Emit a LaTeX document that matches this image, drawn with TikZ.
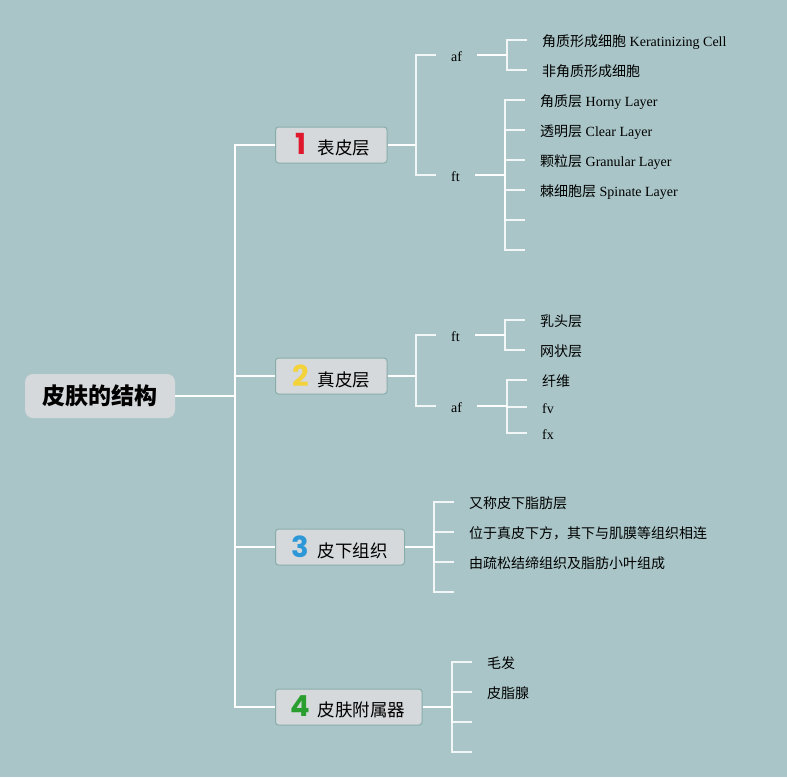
\documentclass[tikz,border=0pt]{standalone}
\usepackage{fontspec}
\setmainfont{Liberation Serif}
\newfontfamily\cjk{Noto Sans CJK SC}
\newfontfamily\badgefont{Poppins}
\definecolor{bgc}{HTML}{A9C5C7}
\definecolor{boxfill}{HTML}{D5D9DC}
\definecolor{boxedge}{HTML}{88AEAB}
\definecolor{bred}{HTML}{E0182D}
\definecolor{byel}{HTML}{F3D23A}
\definecolor{bblue}{HTML}{2D98D8}
\definecolor{bgreen}{HTML}{2A9E2E}
\newcommand\badgenum[2]{\makebox[16pt][c]{\badgefont\bfseries\fontsize{29}{29}\selectfont\color{#2}#1}}
\begin{document}
\begin{tikzpicture}[x=1pt,y=-1pt,
  conn/.style={draw=white, line width=1.7pt},
  tick/.style={draw=white, draw opacity=0.85, line width=1.5pt},
  rootbox/.style={fill=boxfill, rounded corners=8pt, minimum width=150pt, minimum height=44pt,
    inner sep=0pt, font=\cjk\bfseries\fontsize{23}{26}\selectfont},
  lvl/.style={draw=boxedge, fill=boxfill, rounded corners=3pt, line width=1pt,
    minimum height=36pt, inner xsep=17pt, inner ysep=0pt, anchor=west,
    font=\cjk\fontsize{17.5}{20}\selectfont},
  sub/.style={anchor=west, inner xsep=15pt, inner ysep=2pt, text height=14pt, text depth=0.7pt,
    font=\fontsize{14}{16}\selectfont},
  leaf/.style={anchor=west, inner xsep=15pt, inner ysep=2pt, text height=14pt, text depth=0.7pt,
    font=\fontsize{14}{16}\selectfont}]
\fill[bgc] (0,0) rectangle (787,777);
\useasboundingbox (0,0) rectangle (787,777);

% root
\node[rootbox] (root) at (100,396) {皮肤的结构};

% level 1
\node[lvl] (n1) at (275,145) {\badgenum{1}{bred}\hspace{9pt}表皮层};
\node[lvl] (n2) at (275,376) {\badgenum{2}{byel}\hspace{9pt}真皮层};
\node[lvl] (n3) at (275,547) {\badgenum{3}{bblue}\hspace{9pt}皮下组织};
\node[lvl] (n4) at (275,707) {\badgenum{4}{bgreen}\hspace{9pt}皮肤附属器};

\coordinate (t0) at (235,396);
\draw[conn] (root.east) -- (t0);
\draw[conn] (t0) |- (n1.west);
\draw[conn] (t0) |- (n2.west);
\draw[conn] (t0) |- (n3.west);
\draw[conn] (t0) |- (n4.west);

% ---- node 1
\coordinate (j1) at (416,145);
\draw[conn] (n1.east) -- (j1);
\node[sub] (n1a) at (436,55) {af};
\node[sub] (n1b) at (436,175) {ft};
\draw[tick] (j1) |- (n1a.west);
\draw[tick] (j1) |- (n1b.west);

\coordinate (j1a) at (507,55);
\draw[conn] (n1a.east) -- (j1a);
\node[leaf] (l11) at (527,40) {{\cjk 角质形成细胞} Keratinizing Cell};
\node[leaf] (l12) at (527,70) {{\cjk 非角质形成细胞}};
\draw[tick] (j1a) |- (l11.west);
\draw[tick] (j1a) |- (l12.west);

\coordinate (j1b) at (505,175);
\draw[conn] (n1b.east) -- (j1b);
\node[leaf] (l13) at (525,100) {{\cjk 角质层} Horny Layer};
\node[leaf] (l14) at (525,130) {{\cjk 透明层} Clear Layer};
\node[leaf] (l15) at (525,160) {{\cjk 颗粒层} Granular Layer};
\node[leaf] (l16) at (525,190) {{\cjk 棘细胞层} Spinate Layer};
\coordinate (e11) at (525,220);
\coordinate (e12) at (525,250);
\foreach \t in {l13,l14,l15,l16} \draw[tick] (j1b) |- (\t.west);
\draw[tick] (j1b) |- (e11);
\draw[tick] (j1b) |- (e12);

% ---- node 2
\coordinate (j2) at (416,376);
\draw[conn] (n2.east) -- (j2);
\node[sub] (n2a) at (436,335) {ft};
\node[sub] (n2b) at (436,406) {af};
\draw[tick] (j2) |- (n2a.west);
\draw[tick] (j2) |- (n2b.west);

\coordinate (j2a) at (505,335);
\draw[conn] (n2a.east) -- (j2a);
\node[leaf] (l21) at (525,320) {{\cjk 乳头层}};
\node[leaf] (l22) at (525,350) {{\cjk 网状层}};
\draw[tick] (j2a) |- (l21.west);
\draw[tick] (j2a) |- (l22.west);

\coordinate (j2b) at (507,406);
\draw[conn] (n2b.east) -- (j2b);
\node[leaf] (l23) at (527,380) {{\cjk 纤维}};
\node[leaf] (l24) at (527,407) {fv};
\node[leaf] (l25) at (527,433) {fx};
\draw[tick] (j2b) |- (l23.west);
\draw[tick] (j2b) |- (l24.west);
\draw[tick] (j2b) |- (l25.west);

% ---- node 3
\coordinate (j3) at (434,547);
\draw[conn] (n3.east) -- (j3);
\node[leaf] (l31) at (454,502) {{\cjk 又称皮下脂肪层}};
\node[leaf] (l32) at (454,532) {{\cjk 位于真皮下方，其下与肌膜等组织相连}};
\node[leaf] (l33) at (454,562) {{\cjk 由疏松结缔组织及脂肪小叶组成}};
\coordinate (e31) at (454,592);
\foreach \t in {l31,l32,l33} \draw[tick] (j3) |- (\t.west);
\draw[tick] (j3) |- (e31);

% ---- node 4
\coordinate (j4) at (452,707);
\draw[conn] (n4.east) -- (j4);
\node[leaf] (l41) at (472,662) {{\cjk 毛发}};
\node[leaf] (l42) at (472,692) {{\cjk 皮脂腺}};
\coordinate (e41) at (472,722);
\coordinate (e42) at (472,752);
\draw[tick] (j4) |- (l41.west);
\draw[tick] (j4) |- (l42.west);
\draw[tick] (j4) |- (e41);
\draw[tick] (j4) |- (e42);
\end{tikzpicture}
\end{document}
